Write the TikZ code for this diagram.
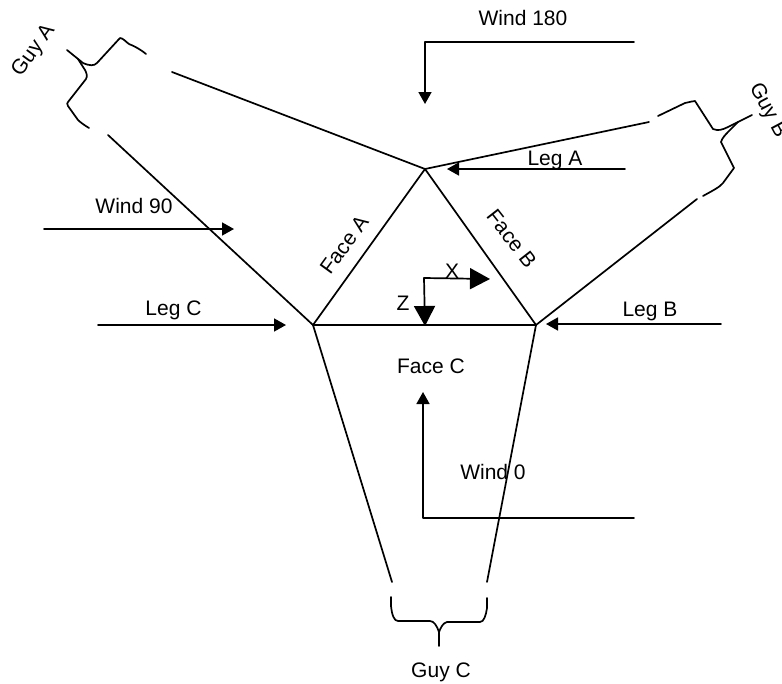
\documentclass[tikz,border=0pt]{standalone}
\usepackage{fontspec}
\setmainfont{Liberation Sans}
\usetikzlibrary{arrows.meta}
\tikzset{
  line/.style={line width=1.7pt,line cap=round,line join=round,black},
  small/.style={line,-{Triangle[length=12pt,width=13pt]}},
  big/.style={line,-{Triangle[length=20pt,width=21pt]}},
  label/.style={font=\fontsize{21}{24}\selectfont,inner sep=0pt,black,anchor=base}
}
\begin{document}
\begin{tikzpicture}[x=1pt,y=-1pt]
\useasboundingbox (0,0) rectangle (782,683);
\coordinate (T) at (425,169);
\coordinate (L) at (313,325);
\coordinate (R) at (536,325);
\coordinate (GAa) at (172,72);
\coordinate (GAb) at (108,135);
\coordinate (GBa) at (649,122);
\coordinate (GBb) at (697,199);
\coordinate (GCa) at (392,582);
\coordinate (GCb) at (487,582);
\draw[line] (T) -- (L) -- (R) -- cycle;
\draw[line] (T) -- (GAa) (L) -- (GAb);
\draw[line] (T) -- (GBa) (R) -- (GBb);
\draw[line] (L) -- (GCa) (R) -- (GCb);
% Guy A brace
\coordinate (GAt) at (67,50);
\draw[line] (146,54) .. controls (140,49) and (134,46) .. (129,44) .. controls (126,42) and (123,38) .. (120,38)
  -- (97,63) .. controls (94,66) and (90,66) .. (83,63) -- (GAt);
\draw[line] (89,128) .. controls (84,125) and (80,122) .. (78,120) -- (68,106) .. controls (67,104) and (67,103) .. (68,102)
  -- (86,79) .. controls (88,76) and (86,72) .. (85,70) -- (78,59);
% Guy B brace
\coordinate (GBt) at (752,115);
\draw[line] (658,116) -- (685,103) .. controls (690,102) and (693,101) .. (695,101) -- (713,129)
  .. controls (718,131) and (722,130) .. (728,127) -- (GBt);
\draw[line] (703,196) .. controls (712,191) and (720,187) .. (723,183) -- (734,168) -- (721,142)
  .. controls (722,138) and (726,134) .. (729,131) -- (738,122);
% Guy C brace
\coordinate (GCt) at (439,646);
\draw[line] (391,597) -- (391,606) .. controls (392,615) and (394,621) .. (398,621) -- (430,621)
  .. controls (434,621) and (437,626) .. (439,632) -- (GCt);
\draw[line] (487,598) -- (487,608) .. controls (486,615) and (484,622) .. (480,622) -- (447,622)
  .. controls (443,623) and (441,627) .. (439,632);
% wind and leg arrows
\coordinate (WAa) at (634,42); \coordinate (WAb) at (425,42); \coordinate (WAc) at (425,104);
\draw[small] (WAa) -- (WAb) -- (WAc);
\coordinate (WBa) at (634,518); \coordinate (WBb) at (423,518); \coordinate (WBc) at (423,392);
\draw[small] (WBa) -- (WBb) -- (WBc);
\coordinate (WCa) at (44,229); \coordinate (WCb) at (234,229);
\draw[small] (WCa) -- (WCb);
\coordinate (LAa) at (625,169); \coordinate (LAb) at (447,169);
\draw[small] (LAa) -- (LAb);
\coordinate (LBa) at (721,324); \coordinate (LBb) at (546,324);
\draw[small] (LBa) -- (LBb);
\coordinate (LCa) at (98,325); \coordinate (LCb) at (286,325);
\draw[small] (LCa) -- (LCb);
% axes
\coordinate (O) at (424,278); \coordinate (Xe) at (490,279); \coordinate (Ze) at (425,326);
\draw[big] (O) -- (Xe);
\draw[big] (O) -- (Ze);
% labels
\node[label] (w180) at (523,25) {Wind 180};
\node[label] (lega) at (555,165) {Leg A};
\node[label] (w90) at (134,213) {Wind 90};
\node[label] (legc) at (173.5,315) {Leg C};
\node[label] (legb) at (650,316) {Leg B};
\node[label] (w0) at (493,479) {Wind 0};
\node[label] (facec) at (431,373) {Face C};
\node[label] (zl) at (403,310) {Z};
\node[label] (xl) at (452,278) {X};
\node[label,rotate=54] (facea) at (350,249) {Face A};
\node[label,rotate=-52] (faceb) at (506,243) {Face B};
\node[label,rotate=54] (guya) at (38,54) {Guy A};
\node[label,rotate=-62] (guyb) at (763,113) {Guy B};
\node[label] (guyc) at (441,677) {Guy C};
\end{tikzpicture}
\end{document}
